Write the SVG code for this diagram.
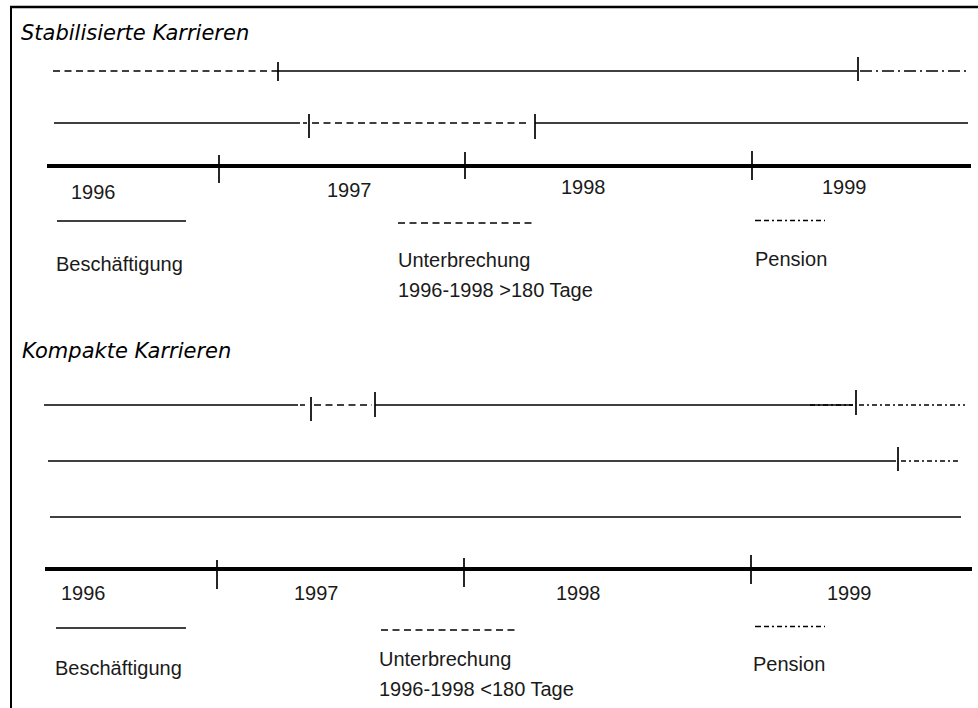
<svg xmlns="http://www.w3.org/2000/svg" width="978" height="708" viewBox="0 0 978 708">
<style>
.ln{stroke:#000;stroke-width:1.5;fill:none}
.dash{stroke-dasharray:7 4.5}
.dd{stroke-dasharray:12 4 2 4}
.ddf{stroke-dasharray:5 3 2 3}
.axis{stroke:#000;stroke-width:4;fill:none}
.tick{stroke:#000;stroke-width:1.7;fill:none}
.lbl{font-family:"Liberation Sans",Arial,sans-serif;font-size:20px;fill:#1a1a1a}
.title{font-family:"DejaVu Sans",Verdana,sans-serif;font-style:italic;font-size:21px;fill:#000}
</style>
<rect width="978" height="708" fill="#fff"/>
<g id="frame">
<line x1="10" y1="7" x2="978" y2="7" stroke="#000" stroke-width="2.5"/>
<line x1="11" y1="6" x2="11" y2="708" stroke="#000" stroke-width="2"/>
</g>
<g id="section-stabil">
<text id="title-stabil" class="title" x="21" y="40">Stabilisierte Karrieren</text>
<g id="s-row1">
<line class="ln dash" x1="53" y1="71" x2="278" y2="71"/>
<line class="tick" x1="278" y1="62" x2="278" y2="81"/>
<line class="ln" x1="278" y1="71" x2="857" y2="71"/>
<line class="tick" x1="858" y1="57" x2="858" y2="81"/>
<line class="ln dd" x1="860" y1="71" x2="967" y2="71"/>
</g>
<g id="s-row2">
<line class="ln" x1="54" y1="123" x2="300" y2="123"/>
<line class="ln" x1="303" y1="123" x2="307" y2="123"/>
<line class="tick" x1="309" y1="114" x2="309" y2="138"/>
<line class="ln dash" x1="312" y1="123" x2="528" y2="123"/>
<line class="tick" x1="535" y1="114" x2="535" y2="139"/>
<line class="ln" x1="535" y1="123" x2="968" y2="123"/>
</g>
<g id="s-axis">
<line class="axis" x1="47" y1="166" x2="971" y2="166"/>
<line class="tick" x1="219" y1="155" x2="219" y2="183"/>
<line class="tick" x1="465" y1="152" x2="465" y2="179"/>
<line class="tick" x1="752" y1="151" x2="752" y2="180"/>
<text class="lbl" x="71" y="199">1996</text>
<text class="lbl" x="327" y="197">1997</text>
<text class="lbl" x="561" y="194">1998</text>
<text class="lbl" x="822" y="194">1999</text>
</g>
<g id="s-legend-beschaeftigung">
<line class="ln" x1="57" y1="221" x2="186" y2="221"/>
<text class="lbl" x="56" y="271">Beschäftigung</text>
</g>
<g id="s-legend-unterbrechung">
<line class="ln dash" x1="398" y1="223" x2="536" y2="223"/>
<text class="lbl" x="398" y="267">Unterbrechung</text>
<text class="lbl" x="398" y="297">1996-1998 &gt;180 Tage</text>
</g>
<g id="s-legend-pension">
<line class="ln" x1="755" y1="220.5" x2="761" y2="220.5" stroke-width="2.5"/>
<line class="ln ddf" x1="764" y1="220.5" x2="825" y2="220.5"/>
<text class="lbl" x="755" y="266">Pension</text>
</g>
</g>
<g id="section-kompakt">
<text id="title-kompakt" class="title" x="22" y="358">Kompakte Karrieren</text>
<g id="k-rowA">
<line class="ln" x1="44" y1="405" x2="298" y2="405"/>
<line class="ln" x1="300" y1="405" x2="305" y2="405"/>
<line class="tick" x1="311" y1="397" x2="311" y2="421"/>
<line class="ln dash" x1="314" y1="405" x2="372" y2="405"/>
<line class="tick" x1="375" y1="392" x2="375" y2="417"/>
<line class="ln" x1="375" y1="405" x2="853" y2="405"/>
<line class="ln ddf" x1="810" y1="405" x2="853" y2="405" stroke-width="2.5"/>
<line class="tick" x1="856" y1="390" x2="856" y2="415"/>
<line class="ln ddf" x1="859" y1="405" x2="965" y2="405"/>
</g>
<g id="k-rowB">
<line class="ln" x1="48" y1="461" x2="896" y2="461"/>
<line class="tick" x1="898" y1="447" x2="898" y2="471"/>
<line class="ln ddf" x1="901" y1="461" x2="959" y2="461"/>
</g>
<g id="k-rowC">
<line class="ln" x1="50" y1="517" x2="961" y2="517"/>
</g>
<g id="k-axis">
<line class="axis" x1="45" y1="569" x2="972" y2="569"/>
<line class="tick" x1="217" y1="560" x2="217" y2="589"/>
<line class="tick" x1="464" y1="558" x2="464" y2="587"/>
<line class="tick" x1="751" y1="555" x2="751" y2="584"/>
<text class="lbl" x="61" y="600">1996</text>
<text class="lbl" x="294" y="600">1997</text>
<text class="lbl" x="556" y="600">1998</text>
<text class="lbl" x="827" y="600">1999</text>
</g>
<g id="k-legend-beschaeftigung">
<line class="ln" x1="56" y1="628" x2="186" y2="628"/>
<text class="lbl" x="55" y="675">Beschäftigung</text>
</g>
<g id="k-legend-unterbrechung">
<line class="ln dash" x1="381" y1="630" x2="518" y2="630"/>
<text class="lbl" x="379" y="666">Unterbrechung</text>
<text class="lbl" x="379" y="696">1996-1998 &lt;180 Tage</text>
</g>
<g id="k-legend-pension">
<line class="ln" x1="755" y1="626.5" x2="761" y2="626.5" stroke-width="2.5"/>
<line class="ln ddf" x1="764" y1="626.5" x2="825" y2="626.5"/>
<text class="lbl" x="753" y="671">Pension</text>
</g>
</g>
</svg>
